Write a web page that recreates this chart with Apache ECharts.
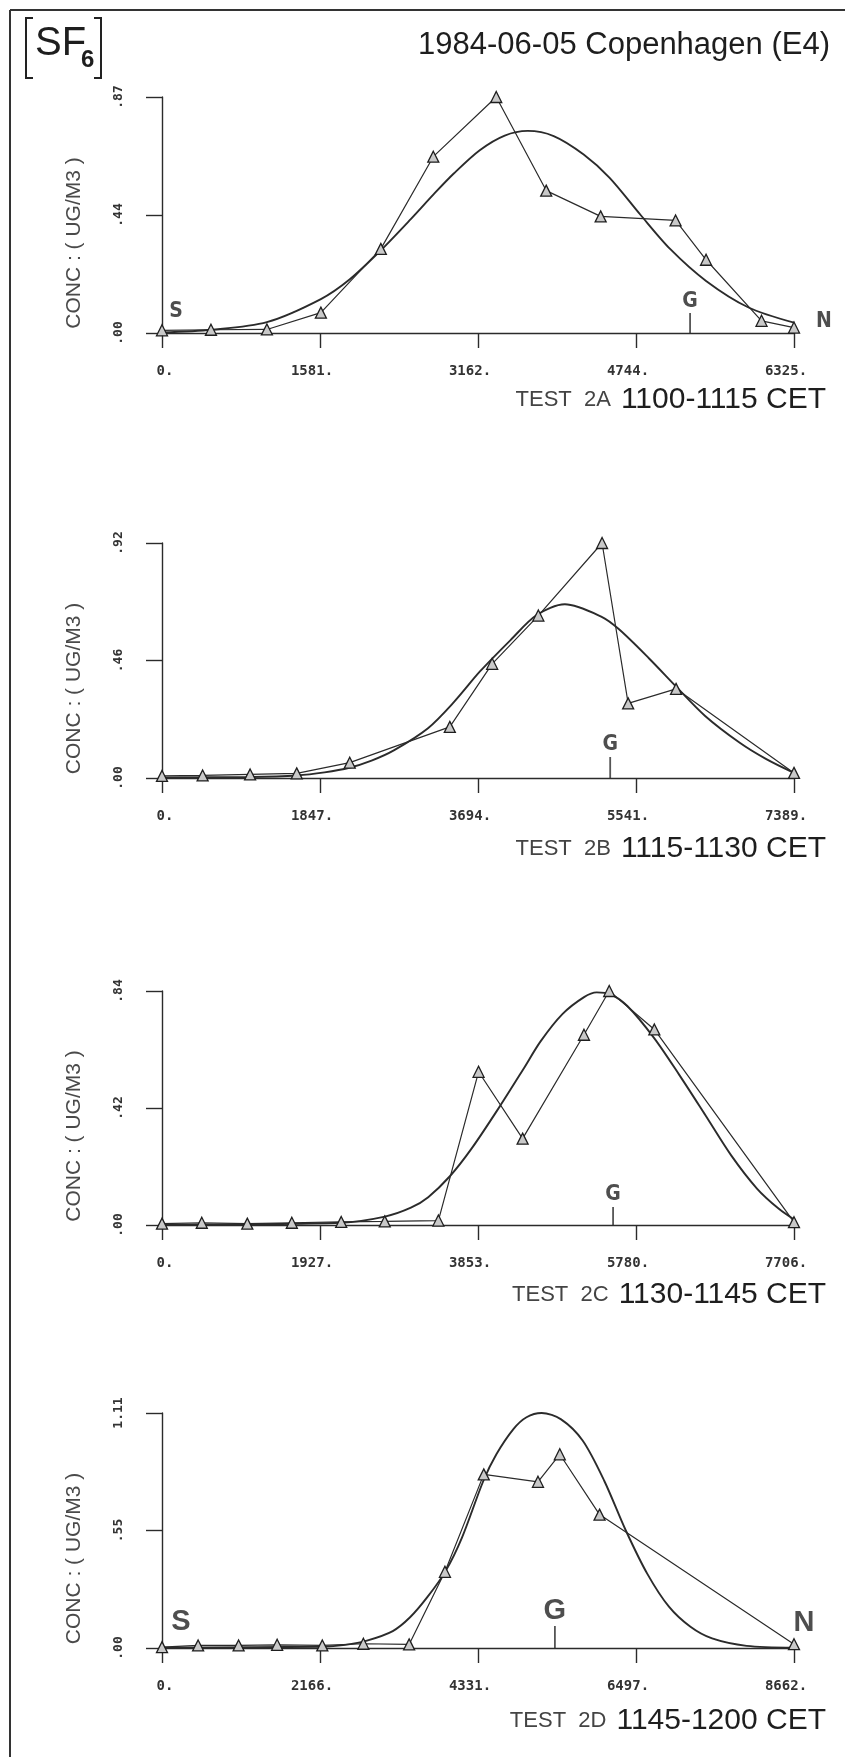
<!DOCTYPE html>
<html>
<head>
<meta charset="utf-8">
<script src="https://cdn.jsdelivr.net/npm/echarts@6/dist/echarts.min.js"></script>
<style>
  html, body { margin: 0; padding: 0; background: #fff; }
  #chart { width: 851px; height: 1757px; }
</style>
</head>
<body>
<div id="chart"></div>
<script>
// SF6 tracer concentrations along the E4 sampling arc, 1984-06-05 Copenhagen.
// Distance along the arc (m) and measured concentration (ug/m3) per test.
const testA_dist = [0, 490, 1050, 1590, 2190, 2715, 3345, 3845, 4390, 5140, 5445, 6000, 6325];
const testA_conc = [0.01, 0.012, 0.013, 0.075, 0.31, 0.65, 0.87, 0.525, 0.43, 0.415, 0.27, 0.045, 0.02];
const testA_fitDist = [0, 500, 1050, 1590, 1880, 2190, 2490, 2720, 2920, 3180, 3430, 3660, 3920, 4220, 4480, 4790, 5090, 5445, 5870, 6325];
const testA_fitConc = [0.002, 0.012, 0.04, 0.125, 0.198, 0.305, 0.42, 0.512, 0.588, 0.674, 0.728, 0.745, 0.726, 0.658, 0.572, 0.435, 0.308, 0.192, 0.094, 0.038];

const testB_dist = [0, 475, 1030, 1575, 2195, 3365, 3860, 4400, 5145, 5450, 6010, 7389];
const testB_conc = [0.008, 0.01, 0.014, 0.018, 0.06, 0.2, 0.447, 0.636, 0.92, 0.292, 0.349, 0.02];
const testB_fitDist = [0, 1030, 1580, 1900, 2190, 2450, 2710, 3110, 3415, 3720, 4075, 4380, 4710, 5135, 5340, 5695, 6005, 6350, 6755, 7060, 7389];
const testB_fitConc = [0.002, 0.004, 0.01, 0.022, 0.04, 0.068, 0.108, 0.195, 0.298, 0.418, 0.54, 0.638, 0.68, 0.632, 0.583, 0.468, 0.36, 0.243, 0.138, 0.075, 0.02];

const testC_dist = [0, 485, 1040, 1583, 2185, 2716, 3370, 3860, 4397, 5145, 5453, 6003, 7706];
const testC_conc = [0.005, 0.008, 0.005, 0.008, 0.011, 0.013, 0.016, 0.55, 0.31, 0.683, 0.84, 0.702, 0.01];
const testC_fitDist = [0, 2190, 2718, 3035, 3246, 3510, 3774, 4117, 4407, 4618, 4882, 5146, 5300, 5470, 5674, 6001, 6307, 6624, 6940, 7257, 7521, 7706];
const testC_fitConc = [0.002, 0.008, 0.03, 0.062, 0.1, 0.175, 0.274, 0.425, 0.56, 0.66, 0.757, 0.818, 0.835, 0.828, 0.786, 0.671, 0.539, 0.395, 0.25, 0.13, 0.058, 0.02];

const testD_dist = [0, 495, 1050, 1578, 2197, 2760, 3387, 3878, 4410, 5153, 5452, 5997, 8662];
const testD_conc = [0.004, 0.012, 0.012, 0.015, 0.012, 0.02, 0.017, 0.36, 0.82, 0.785, 0.915, 0.63, 0.018];
const testD_fitDist = [0, 2200, 2513, 2809, 3163, 3400, 3636, 3885, 4110, 4405, 4583, 4819, 4996, 5203, 5470, 5765, 6061, 6357, 6652, 6948, 7243, 7539, 8012, 8662];
const testD_fitConc = [0.002, 0.006, 0.015, 0.035, 0.08, 0.145, 0.24, 0.362, 0.52, 0.79, 0.915, 1.035, 1.09, 1.11, 1.08, 0.98, 0.79, 0.555, 0.35, 0.195, 0.1, 0.045, 0.01, 0.002];

// Axis extents and tick labels
const xAxisMax = [6325, 7389, 7706, 8662];
const yAxisMax = [0.87, 0.92, 0.84, 1.11];
const xTickLabels = [
  ['0.', '1581.', '3162.', '4744.', '6325.'],
  ['0.', '1847.', '3694.', '5541.', '7389.'],
  ['0.', '1927.', '3853.', '5780.', '7706.'],
  ['0.', '2166.', '4331.', '6497.', '8662.']
];
const yTickLabels = [
  ['.00', '.44', '.87'],
  ['.00', '.46', '.92'],
  ['.00', '.42', '.84'],
  ['.00', '.55', '1.11']
];

// Position of the G station along each arc
const gStation = [5285, 5240, 5500, 5385];

const testNames = ['TEST  2A', 'TEST  2B', 'TEST  2C', 'TEST  2D'];
const testTimes = ['1100-1115 CET', '1115-1130 CET', '1130-1145 CET', '1145-1200 CET'];

const measured = [
  [testA_dist, testA_conc], [testB_dist, testB_conc],
  [testC_dist, testC_conc], [testD_dist, testD_conc]
];
const fitted = [
  [testA_fitDist, testA_fitConc], [testB_fitDist, testB_fitConc],
  [testC_fitDist, testC_fitConc], [testD_fitDist, testD_fitConc]
];

// ---- layout & styling ----
const INK = '#2b2b2b';
const gridTop = [97, 543, 991, 1413];
const gridHeight = [236, 235, 234, 235];
const labelCenterY = [400, 849, 1295, 1721];
const gTickLen = [20, 21, 18, 22];
const handFont = { fontFamily: 'DejaVu Sans Condensed', fontSize: 21, fontWeight: 'bold', color: '#222' };
const boldFont = { fontFamily: 'Liberation Sans', fontSize: 29, fontWeight: 'bold', color: '#222' };
// letter offsets (px) for S / N relative to the arc ends
const letterStyle = [
  { font: handFont, s: [14, -21], n: [30, -11], gDist: 1, withEnds: true },
  { font: handFont, s: null, n: null, gDist: 2, withEnds: false },
  { font: handFont, s: null, n: null, gDist: 2, withEnds: false },
  { font: boldFont, s: [19, -26], n: [10, -25], gDist: 1, withEnds: true }
];

const zip = (xs, ys) => xs.map((x, i) => [x, ys[i]]);

const grids = [], xAxes = [], yAxes = [], series = [], titles = [];

titles.push({
  text: '1984-06-05 Copenhagen (E4)',
  right: 21, top: 28, padding: 0,
  textStyle: { fontFamily: 'Liberation Sans', fontSize: 31, fontWeight: 'normal', color: '#1e1e1e', lineHeight: 34 }
});

const tickFont = { color: '#333', fontFamily: 'DejaVu Sans Mono', fontSize: 14, fontWeight: 'bold' };

for (let i = 0; i < 4; i++) {
  grids.push({ left: 162, width: 632, top: gridTop[i], height: gridHeight[i], containLabel: false });

  const xStep = xAxisMax[i] / 4;
  xAxes.push({
    gridIndex: i, type: 'value', min: 0, max: xAxisMax[i], interval: xStep,
    axisLine: { show: true, onZero: false, lineStyle: { color: INK, width: 1.4 } },
    axisTick: { show: true, length: 15, lineStyle: { color: INK, width: 1.4 } },
    splitLine: { show: false },
    axisLabel: {
      margin: 31, ...tickFont,
      formatter: (v) => {
        const k = Math.round(v / xStep);
        const t = xTickLabels[i][k] ?? '';
        return k === 0 ? '{z|' + t + '}' : '{n|' + t + '}';
      },
      rich: {
        z: { ...tickFont, padding: [0, 0, 0, 6] },
        n: { ...tickFont, padding: [0, 16, 0, 0] }
      }
    }
  });

  const yStep = yAxisMax[i] / 2;
  yAxes.push({
    gridIndex: i, type: 'value', min: 0, max: yAxisMax[i], interval: yStep,
    axisLine: { show: true, onZero: false, lineStyle: { color: INK, width: 1.4 } },
    axisTick: { show: true, length: 16, lineStyle: { color: INK, width: 1.4 } },
    splitLine: { show: false },
    axisLabel: {
      rotate: 90, margin: 37, color: '#333', fontFamily: 'DejaVu Sans Mono', fontSize: 13, fontWeight: 'bold',
      formatter: (v) => yTickLabels[i][Math.round(v / yStep)] ?? ''
    },
    name: 'CONC : ( UG/M3 )', nameLocation: 'middle', nameRotate: 90, nameGap: 77,
    nameTextStyle: { fontFamily: 'Liberation Sans', fontWeight: 'normal', fontSize: 21, color: '#4a4a4a', padding: [0, 56, 0, 0] }
  });

  // fitted curve
  series.push({
    type: 'line', xAxisIndex: i, yAxisIndex: i, data: zip(fitted[i][0], fitted[i][1]),
    smooth: 0.3, showSymbol: false, silent: true, z: 2,
    lineStyle: { color: INK, width: 1.9 }
  });
  // measured concentrations
  series.push({
    type: 'line', xAxisIndex: i, yAxisIndex: i, data: zip(measured[i][0], measured[i][1]),
    symbol: 'triangle', symbolSize: 11, showSymbol: true, showAllSymbol: true, z: 3,
    lineStyle: { color: INK, width: 1.2 },
    itemStyle: { color: '#c9c9c9', borderColor: '#1e1e1e', borderWidth: 1.3 }
  });

  // station annotations: G tick, S and N ends
  const ls = letterStyle[i];
  const ann = [{
    value: [gStation[i], 0], symbol: 'rect',
    symbolSize: [1.8, gTickLen[i]], symbolOffset: [0, -gTickLen[i] / 2],
    itemStyle: { color: INK },
    label: { show: true, formatter: 'G', position: 'top', distance: ls.gDist, ...ls.font }
  }];
  if (ls.withEnds) {
    ann.push({ value: [0, 0], symbolSize: 0,
      label: { show: true, formatter: 'S', position: 'inside', offset: ls.s, ...ls.font } });
    ann.push({ value: [xAxisMax[i], 0], symbolSize: 0,
      label: { show: true, formatter: 'N', position: 'inside', offset: ls.n, ...ls.font } });
  }
  series.push({ type: 'scatter', xAxisIndex: i, yAxisIndex: i, data: ann, silent: true, z: 4 });

  titles.push({
    text: '{a|' + testNames[i] + '}  {b|' + testTimes[i] + '}',
    right: 25, top: labelCenterY[i] - 17, padding: 0,
    textStyle: {
      rich: {
        a: { fontFamily: 'Liberation Sans', fontWeight: 'normal', fontSize: 22, color: '#444', lineHeight: 34 },
        b: { fontFamily: 'Liberation Sans', fontWeight: 'normal', fontSize: 30, color: '#1e1e1e', lineHeight: 34 }
      }
    }
  });
}

const chart = echarts.init(document.getElementById('chart'), null, { renderer: 'canvas' });
chart.setOption({
  backgroundColor: '#ffffff',
  animation: false,
  title: titles,
  grid: grids,
  xAxis: xAxes,
  yAxis: yAxes,
  series: series,
  graphic: { elements: [
    // page frame
    { type: 'line', shape: { x1: 10, y1: 10, x2: 10, y2: 1757 }, style: { stroke: '#333', lineWidth: 2 } },
    { type: 'line', shape: { x1: 10, y1: 10, x2: 845, y2: 10 }, style: { stroke: '#333', lineWidth: 2 } },
    // [SF6] badge
    { type: 'polyline', shape: { points: [[33, 18], [26, 18], [26, 78], [33, 78]] }, style: { stroke: '#222', lineWidth: 2, fill: null } },
    { type: 'polyline', shape: { points: [[94, 18], [101, 18], [101, 78], [94, 78]] }, style: { stroke: '#222', lineWidth: 2, fill: null } },
    { type: 'text', style: { text: 'SF', x: 35, y: 44, font: '40px "Liberation Sans"', fill: '#1e1e1e', textVerticalAlign: 'middle' } },
    { type: 'text', style: { text: '6', x: 81, y: 60, font: 'bold 24px "Liberation Sans"', fill: '#1e1e1e', textVerticalAlign: 'middle' } }
  ] }
});
</script>
</body>
</html>
